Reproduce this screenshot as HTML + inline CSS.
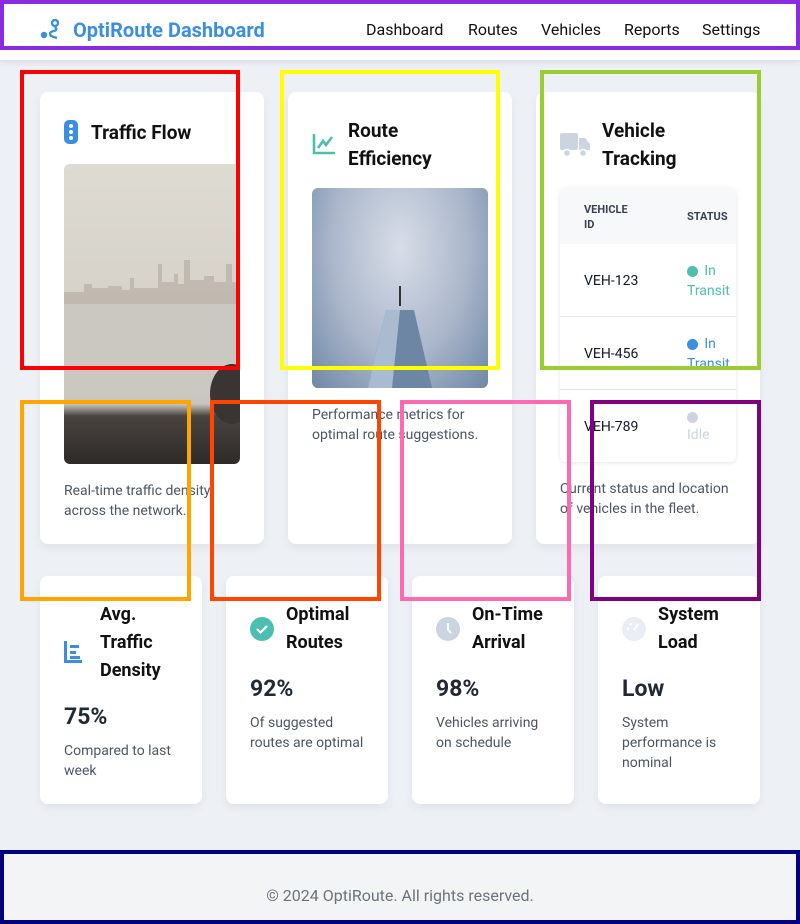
<!DOCTYPE html>
<html><head><meta charset="utf-8"><style>
*{box-sizing:border-box;margin:0;padding:0}
body{width:800px;height:924px;position:relative;background:#edf1f5;font-family:"Roboto","Liberation Sans",sans-serif;overflow:hidden;color:#111827}
.abs{position:absolute}
.card{position:absolute;background:#fff;border-radius:8px;box-shadow:0 4px 10px rgba(0,0,0,.06)}
.h{font-weight:700;font-size:19px;line-height:28px;color:#111}
.desc{font-size:14px;line-height:20px;color:#4b5563}
.h,.desc,.big,.sd,.t{margin-top:1px}
.box{position:absolute;border:4px solid;pointer-events:none}
nav a{position:absolute;top:20px;font-size:16px;color:#111;text-decoration:none}
.big{font-size:23px;font-weight:700;color:#1f2937}
.sd{font-size:14px;line-height:20px;color:#4b5563}
</style></head><body>
<header class="abs" style="left:0;top:0;width:800px;height:60px;background:#fff;box-shadow:0 2px 6px rgba(0,0,0,.1)">
<svg class="abs" style="left:40px;top:19px" width="22" height="22" viewBox="0 0 22 22"><circle cx="4" cy="16" r="3.2" fill="#3b8fe0"/><circle cx="15" cy="4" r="3" fill="none" stroke="#3b8fe0" stroke-width="2.4"/><path d="M15 8 Q18 11 14 12 Q8 13 11 17 L17 19" stroke="#3b8fe0" stroke-width="2.4" fill="none"/></svg>
<div class="abs" style="left:73px;top:18px;font-size:20px;font-weight:700;color:#3b8fe0">OptiRoute Dashboard</div>
<nav>
<a href="#" style="left:366px">Dashboard</a>
<a href="#" style="left:468px">Routes</a>
<a href="#" style="left:541px">Vehicles</a>
<a href="#" style="left:624px">Reports</a>
<a href="#" style="left:702px">Settings</a>
</nav></header>

<div class="card" style="left:40px;top:92px;width:224px;height:452px">
<svg class="abs" style="left:24px;top:28px" width="14" height="24"><rect width="14" height="24" rx="5" fill="#3b8fe0"/><circle cx="7" cy="6" r="2" fill="#fff"/><circle cx="7" cy="12" r="2" fill="#fff"/><circle cx="7" cy="18" r="2" fill="#fff"/></svg>
<div class="h abs" style="left:51px;top:26px">Traffic Flow</div>
<div class="abs" style="left:24px;top:72px;width:176px;height:300px;border-radius:6px;overflow:hidden;background:linear-gradient(#dedbd3 0%,#d6d2ca 45%,#c8c4bd 58%,#c9c6c0 80%,#4a4440 84%,#2e2a28 100%)">
<svg class="abs" style="left:0;top:0" width="176" height="300"><path d="M0 128 H20 V120 H28 V124 H44 V122 H58 V126 H66 V114 H70 V124 H94 V100 H98 V118 H110 V110 H114 V120 H120 V96 H126 V116 H140 V112 H150 V118 H162 V100 H168 V118 H176 V140 H0Z" fill="#bdb5ab" opacity=".85"/><rect x="0" y="140" width="176" height="90" fill="#cbc8c2"/><ellipse cx="168" cy="230" rx="22" ry="30" fill="#3a3532"/></svg>
</div>
<div class="desc abs" style="left:24px;top:388px;width:180px">Real-time traffic density across the network.</div>
</div>

<div class="card" style="left:288px;top:92px;width:224px;height:452px">
<svg class="abs" style="left:24px;top:41px" width="24" height="22"><path d="M2 1 V20 H23" stroke="#4cbfb1" stroke-width="2.6" fill="none"/><path d="M6 15 L11 8 L14 12 L20 4" stroke="#4cbfb1" stroke-width="2.6" fill="none"/></svg>
<div class="h abs" style="left:60px;top:24px;width:120px">Route Efficiency</div>
<div class="abs" style="left:24px;top:96px;width:176px;height:200px;border-radius:6px;overflow:hidden;background:radial-gradient(ellipse at 50% 30%,#d8dee8 0%,#aab6ca 55%,#6f87a6 100%)">
<svg class="abs" style="left:0;top:0" width="176" height="200"><line x1="88" y1="98" x2="88" y2="118" stroke="#333" stroke-width="2"/><polygon points="74,122 102,122 120,200 56,200" fill="#6d86a3"/><polygon points="74,122 88,122 80,200 56,200" fill="#a8bbd0"/></svg>
</div>
<div class="desc abs" style="left:24px;top:312px;width:180px">Performance metrics for optimal route suggestions.</div>
</div>

<div class="card" style="left:536px;top:92px;width:224px;height:452px">
<svg class="abs" style="left:24px;top:41px" width="30" height="24"><rect x="0" y="0" width="18" height="17" rx="2" fill="#cbd5e1"/><path d="M19 5 H25 L30 11 V17 H19Z" fill="#cbd5e1"/><circle cx="7" cy="20" r="3.5" fill="#cbd5e1" stroke="#fff" stroke-width="1.5"/><circle cx="23" cy="20" r="3.5" fill="#cbd5e1" stroke="#fff" stroke-width="1.5"/></svg>
<div class="h abs" style="left:66px;top:24px;width:120px">Vehicle Tracking</div>
<div class="abs" style="left:24px;top:96px;width:176px;height:274px;border-radius:6px;box-shadow:0 1px 4px rgba(0,0,0,.1);overflow:hidden;background:#fff">
<div class="abs" style="left:0;top:0;width:176px;height:56px;background:#f7f8fa"></div>
<div class="abs t" style="left:24px;top:13px;font-size:11px;font-weight:700;color:#374151;line-height:15px">VEHICLE<br>ID</div>
<div class="abs t" style="left:127px;top:21px;font-size:11px;font-weight:700;color:#374151">STATUS</div>
<div class="abs" style="left:0;top:128px;width:176px;height:1px;background:#e5e7eb"></div>
<div class="abs" style="left:0;top:201px;width:176px;height:1px;background:#e5e7eb"></div>
<div class="abs t" style="left:24px;top:84px;font-size:14px">VEH-123</div>
<div class="abs" style="left:127px;top:78px;width:11px;height:11px;border-radius:50%;background:#4cbfb1"></div>
<div class="abs t" style="left:127px;top:72px;font-size:14px;line-height:20px;color:#4cbfb1;width:50px">&nbsp;&nbsp;&nbsp;&nbsp;&nbsp;In Transit</div>
<div class="abs t" style="left:24px;top:157px;font-size:14px">VEH-456</div>
<div class="abs" style="left:127px;top:151px;width:11px;height:11px;border-radius:50%;background:#3b8fe0"></div>
<div class="abs t" style="left:127px;top:145px;font-size:14px;line-height:20px;color:#3b8fe0;width:50px;height:37px;overflow:hidden">&nbsp;&nbsp;&nbsp;&nbsp;&nbsp;In Transit</div>
<div class="abs t" style="left:24px;top:230px;font-size:14px">VEH-789</div>
<div class="abs" style="left:127px;top:224px;width:11px;height:11px;border-radius:50%;background:#cbd5e1"></div>
<div class="abs t" style="left:127px;top:238px;font-size:14px;color:#cbd5e1">Idle</div>
</div>
<div class="desc abs" style="left:24px;top:386px;width:180px">Current status and location of vehicles in the fleet.</div>
</div>

<div class="card" style="left:40px;top:576px;width:162px;height:228px">
<svg class="abs" style="left:24px;top:65px" width="18" height="22"><path d="M1.5 0 V20.5 H18" stroke="#3b8fe0" stroke-width="3" fill="none"/><rect x="6" y="4" width="9" height="3" fill="#3b8fe0"/><rect x="6" y="10" width="6" height="3" fill="#3b8fe0"/><rect x="6" y="15" width="10" height="3" fill="#3b8fe0"/></svg>
<div class="h abs" style="left:60px;top:24px;font-size:18px">Avg.<br>Traffic<br>Density</div>
<div class="big abs" style="left:24px;top:126px">75%</div>
<div class="sd abs" style="left:24px;top:164px;width:120px">Compared to last week</div>
</div>
<div class="card" style="left:226px;top:576px;width:162px;height:228px">
<svg class="abs" style="left:24px;top:41px" width="24" height="24"><circle cx="12" cy="12" r="12" fill="#4cbfb1"/><path d="M7 12 L10.5 15.5 L17 9" stroke="#fff" stroke-width="2.2" fill="none"/></svg>
<div class="h abs" style="left:60px;top:24px;font-size:18px">Optimal<br>Routes</div>
<div class="big abs" style="left:24px;top:98px">92%</div>
<div class="sd abs" style="left:24px;top:136px;width:125px">Of suggested routes are optimal</div>
</div>
<div class="card" style="left:412px;top:576px;width:162px;height:228px">
<svg class="abs" style="left:24px;top:41px" width="24" height="24"><circle cx="12" cy="12" r="12" fill="#cbd5e1"/><path d="M12 6 V12.5 L15 16" stroke="#fff" stroke-width="2" fill="none"/></svg>
<div class="h abs" style="left:60px;top:24px;font-size:18px">On-Time<br>Arrival</div>
<div class="big abs" style="left:24px;top:98px">98%</div>
<div class="sd abs" style="left:24px;top:136px;width:120px">Vehicles arriving on schedule</div>
</div>
<div class="card" style="left:598px;top:576px;width:162px;height:228px">
<svg class="abs" style="left:24px;top:41px" width="24" height="24"><circle cx="12" cy="12" r="12" fill="#e9eef4"/><path d="M12 13 L16 7" stroke="#fff" stroke-width="2.2"/><circle cx="6" cy="12" r="1.3" fill="#fff"/><circle cx="9" cy="7" r="1.3" fill="#fff"/></svg>
<div class="h abs" style="left:60px;top:24px;font-size:18px">System<br>Load</div>
<div class="big abs" style="left:24px;top:98px">Low</div>
<div class="sd abs" style="left:24px;top:136px;width:120px">System performance is nominal</div>
</div>

<footer class="abs" style="left:0;top:852px;width:800px;height:72px;background:#f3f4f6">
<div class="abs" style="left:0;top:34px;width:800px;text-align:center;font-size:16px;color:#6b7280">© 2024 OptiRoute. All rights reserved.</div>
</footer>

<div class="box" style="left:0;top:0;width:800px;height:50px;border-color:#8a2be2"></div>
<div class="box" style="left:20px;top:70px;width:220px;height:300px;border-color:#ff0000"></div>
<div class="box" style="left:280px;top:70px;width:220px;height:300px;border-color:#ffff00"></div>
<div class="box" style="left:540px;top:70px;width:221px;height:300px;border-color:#9acd32"></div>
<div class="box" style="left:20px;top:400px;width:171px;height:201px;border-color:#ffa500"></div>
<div class="box" style="left:210px;top:400px;width:171px;height:201px;border-color:#ff4500"></div>
<div class="box" style="left:400px;top:400px;width:171px;height:201px;border-color:#ff69b4"></div>
<div class="box" style="left:590px;top:400px;width:171px;height:201px;border-color:#800080"></div>
<div class="box" style="left:0;top:850px;width:800px;height:74px;border-color:#000080"></div>
</body></html>
